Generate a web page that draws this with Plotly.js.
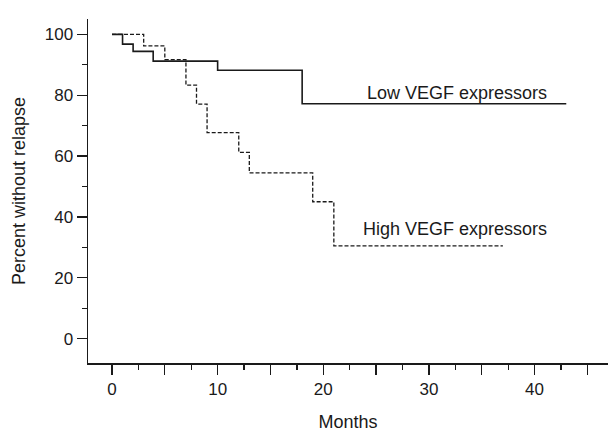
<!DOCTYPE html>
<html>
<head>
<meta charset="utf-8">
<script src="https://cdn.plot.ly/plotly-3.0.1.min.js"></script>
<style>html,body{margin:0;padding:0;background:#fff;}#chart{width:608px;height:432px;}</style>
</head>
<body>
<div id="chart"></div>
<script>
// Kaplan-Meier step data (months, percent without relapse)
var lowMonths  = [0, 1, 2, 3.9, 10, 18, 43];
var lowPercent = [100, 96.8, 94.4, 91.2, 88.2, 77.2, 77.2];
var highMonths  = [0, 3, 5, 7, 8, 9, 12, 13, 19, 21, 37];
var highPercent = [100, 96.2, 91.7, 83.3, 77.1, 67.7, 61.2, 54.5, 45.0, 30.5, 30.5];
var seriesLabels = ["Low VEGF expressors", "High VEGF expressors"];
var labelMonths  = [32.7, 32.5];
var labelPercent = [80.6, 35.9];
var xTickVals = [0, 5, 10, 15, 20, 25, 30, 35, 40, 45];
var xTickText = ["0", "", "10", "", "20", "", "30", "", "40", ""];
var yTickVals = [0, 20, 40, 60, 80, 100];

var FONT = "Liberation Sans, Arial, Helvetica, sans-serif";
var INK = "#1a1a1a";

var traces = [
  {x: lowMonths, y: lowPercent, type: "scatter", mode: "lines", name: seriesLabels[0],
   line: {shape: "hv", color: INK, width: 1.6}},
  {x: highMonths, y: highPercent, type: "scatter", mode: "lines", name: seriesLabels[1],
   line: {shape: "hv", color: INK, width: 1.3, dash: "4px,2px"}}
];

var layout = {
  width: 608, height: 432,
  margin: {l: 88, r: 0, t: 19, b: 69},
  paper_bgcolor: "#fff", plot_bgcolor: "#fff",
  showlegend: false,
  font: {family: FONT, size: 18, color: INK},
  xaxis: {
    range: [-2.27, 46.95],
    tickmode: "array", tickvals: xTickVals, ticktext: xTickText,
    ticks: "outside", ticklen: 10, tickwidth: 1.3, tickcolor: INK,
    minor: {ticks: "outside", tick0: 2.5, dtick: 5, ticklen: 5, tickwidth: 1.3, tickcolor: INK},
    showline: true, linecolor: INK, linewidth: 1.5,
    showgrid: false, zeroline: false,
    tickfont: {family: FONT, size: 17, color: INK},
    title: {text: "Months", font: {family: FONT, size: 18, color: INK}, standoff: 22}
  },
  yaxis: {
    range: [-8.0, 105.05],
    tickmode: "array", tickvals: yTickVals,
    ticks: "outside", ticklen: 10, tickwidth: 1.3, tickcolor: INK,
    minor: {ticks: "outside", tick0: 10, dtick: 20, ticklen: 5, tickwidth: 1.3, tickcolor: INK},
    showline: true, linecolor: INK, linewidth: 1.5,
    showgrid: false, zeroline: false,
    tickfont: {family: FONT, size: 17, color: INK},
    title: {text: "Percent without relapse", font: {family: FONT, size: 18, color: INK}, standoff: 14}
  },
  annotations: seriesLabels.map(function (t, i) {
    return {x: labelMonths[i], y: labelPercent[i], xref: "x", yref: "y", text: t,
            showarrow: false, xanchor: "center", yanchor: "middle",
            font: {family: FONT, size: 18, color: INK}};
  })
};

Plotly.newPlot("chart", traces, layout, {staticPlot: true, displayModeBar: false});
</script>
</body>
</html>
